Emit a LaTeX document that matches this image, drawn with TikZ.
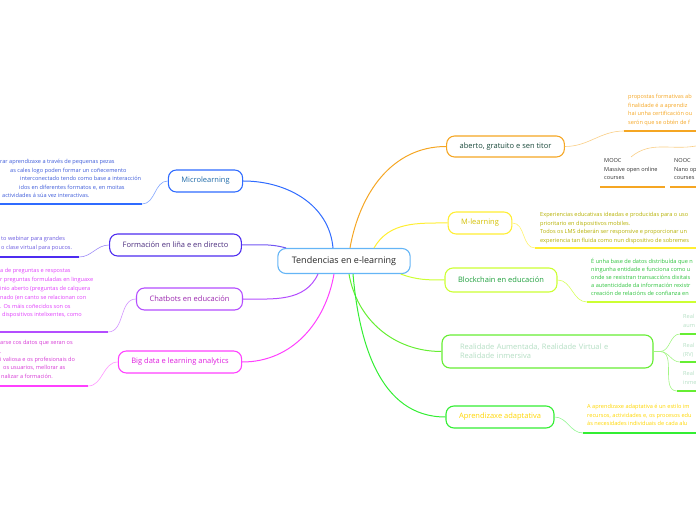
\documentclass[tikz,border=0pt]{standalone}
\usepackage{fontspec}
\setmainfont{Open Sans}
\usetikzlibrary{arrows.meta}

\definecolor{rootline}{HTML}{64B5F6}
\definecolor{mblue}{HTML}{2F6BFF}
\definecolor{mbluetext}{HTML}{1E6AA8}
\definecolor{mbluenote}{HTML}{3D5BD9}
\definecolor{findigo}{HTML}{4D2CF0}
\definecolor{findigotext}{HTML}{4B2D7F}
\definecolor{findigonote}{HTML}{6A5AE0}
\definecolor{cviolet}{HTML}{B44DFF}
\definecolor{cviolettext}{HTML}{9C27B0}
\definecolor{cvioletnote}{HTML}{E040FB}
\definecolor{bmagenta}{HTML}{FF40FF}
\definecolor{bmagentatext}{HTML}{E01EE0}
\definecolor{bmagentanote}{HTML}{D63AD6}
\definecolor{aorange}{HTML}{F5A623}
\definecolor{aorangetext}{HTML}{1B4A3C}
\definecolor{myellow}{HTML}{FFEE33}
\definecolor{myellowtext}{HTML}{D4C000}
\definecolor{myellownote}{HTML}{B5B000}
\definecolor{blime}{HTML}{CCFF33}
\definecolor{blimetext}{HTML}{1EA03C}
\definecolor{blimenote}{HTML}{2DC23D}
\definecolor{rgreen}{HTML}{66EE33}
\definecolor{rgreentext}{HTML}{B5DFC4}
\definecolor{agreen}{HTML}{33EE33}
\definecolor{ayellowtext}{HTML}{FFD600}

\begin{document}
\begin{tikzpicture}[
    x=1pt, y=1pt,
    topic/.style={draw, line width=1.1pt, rounded corners=8pt, fill=white,
        inner xsep=13pt, minimum height=22pt, font=\fontsize{7.5}{9}\selectfont},
    note/.style={anchor=north west, align=left, inner sep=0pt,
        font=\fontsize{5.6}{8.5}\selectfont},
    link/.style={line width=1pt},
    twig/.style={line width=0.6pt},
    rule/.style={line width=1.6pt}
]
\useasboundingbox (0,0) rectangle (696,520);

% --- Central topic ---
\node[topic, draw=rootline, text=black!85, minimum height=25pt, inner xsep=14pt,
    font=\fontsize{9}{11}\selectfont] (root) at (344,259) {Tendencias en e-learning};

% --- Left branches ---
\node[topic, draw=mblue, text=mbluetext] (micro) at (205.5,339) {Microlearning};
\node[topic, draw=findigo, text=findigotext] (form) at (175.5,275) {Formación en liña e en directo};
\node[topic, draw=cviolet, text=cviolettext] (chat) at (189.5,221) {Chatbots en educación};
\node[topic, draw=bmagenta, text=bmagentatext] (big) at (180,158) {Big data e learning analytics};

% --- Right branches ---
\node[topic, draw=aorange, text=aorangetext, minimum height=21pt] (aberto) at (505.5,373.5) {aberto, gratuito e sen titor};
\node[topic, draw=myellow, text=myellowtext] (mlearn) at (480,297) {M-learning};
\node[topic, draw=blime, text=blimetext, minimum height=24pt] (chain) at (501,240) {Blockchain en educación};
\node[topic, draw=rgreen, text=rgreentext, minimum height=33pt, text width=175pt,
    inner xsep=18pt, align=left] (real) at (547.5,168.5) {Realidade Aumentada, Realidade Virtual e\\Realidade inmersiva};
\node[topic, draw=agreen, text=ayellowtext] (adapt) at (500,103) {Aprendizaxe adaptativa};

% Main connectors from the central topic
\draw[link, mblue] ([xshift=-11pt]root.north) to[out=95, in=0] (micro.east);
\draw[link, findigo!80] ([xshift=-58pt]root.north) to[out=165, in=0] (form.east);
\draw[link, cviolet] ([xshift=-26pt]root.south) to[out=-115, in=0] (chat.east);
\draw[link, bmagenta] ([xshift=-10pt]root.south) to[out=-100, in=0] (big.east);
\draw[link, aorange] ([xshift=6pt]root.north) to[out=80, in=180] (aberto.west);
\draw[link, myellow] ([xshift=30pt]root.north) to[out=60, in=180] (mlearn.west);
\draw[link, blime] ([xshift=-10pt]root.south east) to[out=-20, in=180] (chain.west);
\draw[link, rgreen] ([xshift=5pt]root.south) to[out=-80, in=180] (real.west);
\draw[link, agreen] ([xshift=9pt]root.south) to[out=-85, in=180] (adapt.west);

% --- Microlearning notes ---
\coordinate (microA) at (142,316);
\coordinate (microB) at (0,316);
\draw[twig, mblue!60] (micro.west) to[out=180, in=0] (microA);
\draw[rule, mblue] (microA) -- (microB);
\node[note, text=mbluenote] (microN) at (0,360.5) {rar aprendizaxe a través de pequenas pezas\\
    \hspace*{10pt}as cales logo poden formar un coñecemento\\
    \hspace*{20pt}interconectado tendo como base a interacción\\
    \hspace*{19pt}idos en diferentes formatos e, en moitas\\
    \hspace*{2pt}actividades á súa vez interactivas.};

% --- Formacion notes ---
\coordinate (formA) at (79,263);
\coordinate (formB) at (0,263);
\draw[twig, findigo!55] (form.west) to[out=180, in=0] (formA);
\draw[rule, findigo] (formA) -- (formB);
\node[note, text=findigonote] (formN) at (1,283.5) {to webinar para grandes\\o clase virtual para poucos.};

% --- Chatbots notes ---
\coordinate (chatA) at (108,188);
\coordinate (chatB) at (0,188);
\draw[twig, cviolet!60] (chat.west) to[out=180, in=0] (chatA);
\draw[rule, cviolet] (chatA) -- (chatB);
\node[note, text=cvioletnote, font=\fontsize{5.6}{8.8}\selectfont] (chatN) at (0,251.5) {a de preguntas e respostas\\
    r preguntas formuladas en linguaxe\\
    inio aberto (preguntas de calquera\\
    nado (en canto se relacionan con\\
    . Os máis coñecidos son os\\
    \hspace*{2pt}dispositivos intelixentes, como};

% --- Big data notes ---
\coordinate (bigA) at (88,134);
\coordinate (bigB) at (0,134);
\draw[twig, bmagenta!55] (big.west) to[out=180, in=0] (bigA);
\draw[rule, bmagenta] (bigA) -- (bigB);
\node[note, text=bmagentanote, font=\fontsize{5.6}{8.3}\selectfont] (bigN) at (0,179.5) {arse cos datos que xeran os\\
    .\\
    i valiosa e os profesionais do\\
    \hspace*{3pt}os usuarios, mellorar as\\
    \hspace*{1pt}nalizar a formación.};

% --- Aberto notes and MOOC / NOOC ---
\coordinate (abertoA) at (624,389);
\coordinate (abertoB) at (696,389);
\draw[twig, aorange!55] (aberto.east) to[out=0, in=180] (abertoA);
\draw[rule, aorange] (abertoA) -- (abertoB);
\node[note, text=aorange] (abertoN) at (628,425.5) {propostas formativas ab\\
    finalidade é a aprendiz\\
    hai unha certificación ou\\
    serón que se obtén de f};
\coordinate (moocTop) at (631,363);
\coordinate (moocEdge) at (696,374);
\draw[twig, aorange!55] (moocTop) to[out=40, in=190] (moocEdge);
\coordinate (moocA) at (600,333);
\coordinate (moocB) at (665,333);
\coordinate (noocA) at (670,333);
\coordinate (noocB) at (696,333);
\draw[rule, aorange] (moocA) -- (moocB);
\draw[rule, aorange] (noocA) -- (noocB);
\node[note, text=black!80] (mooc) at (604,361.5) {MOOC\\Massive open online\\courses};
\node[note, text=black!80] (nooc) at (674,361.5) {NOOC\\Nano op\\courses};

% --- M-learning notes ---
\coordinate (mlearnA) at (535,272);
\coordinate (mlearnB) at (696,272);
\draw[twig, myellow!70] (mlearn.east) to[out=0, in=180] (mlearnA);
\draw[rule, myellow] (mlearnA) -- (mlearnB);
\node[note, text=myellownote] (mlearnN) at (540,307.5) {Experiencias educativas ideadas e producidas para o uso\\
    prioritario en dispositivos mobiles.\\
    Todos os LMS deberán ser responsive e proporcionar un\\
    experiencia tan fluida como nun dispositivo de sobremes};

% --- Blockchain notes ---
\coordinate (chainA) at (587,218);
\coordinate (chainB) at (696,218);
\draw[twig, blime!80] (chain.east) to[out=0, in=180] (chainA);
\draw[rule, blime] (chainA) -- (chainB);
\node[note, text=blimenote, font=\fontsize{5.6}{8}\selectfont] (chainN) at (591,261.5) {É unha base de datos distribuída que n\\
    ningunha entidade e funciona como u\\
    onde se rexistran transaccións dixitais\\
    a autenticidade da información rexistr\\
    creación de relacións de confianza en};

% --- Realidade subtopics ---
\coordinate (fork) at (660,168.5);
\coordinate (realA) at (680,186);
\coordinate (realB) at (680,158);
\coordinate (realC) at (677,129);
\draw[twig, rgreen!60] (real.east) -- (fork);
\foreach \tip in {realA, realB, realC}
    \draw[twig, rgreen!60] (fork) to[out=0, in=180] (\tip);
\draw[rule, rgreen] (realA) -- (696,186);
\draw[rule, rgreen] (realB) -- (696,158);
\draw[rule, rgreen] (realC) -- (696,129);
\node[note, text=rgreentext] (realN1) at (683,205.5) {Real\\aum};
\node[note, text=rgreentext] (realN2) at (683,176.5) {Real\\(RV)};
\node[note, text=rgreentext] (realN3) at (683,148.5) {Real\\inme};

% --- Aprendizaxe notes ---
\coordinate (adaptA) at (583,87);
\coordinate (adaptB) at (696,87);
\draw[twig, agreen!55] (adapt.east) to[out=0, in=180] (adaptA);
\draw[rule, agreen] (adaptA) -- (adaptB);
\node[note, text=ayellowtext] (adaptN) at (587,115.5) {A aprendizaxe adaptativa é un estilo im\\
    recursos, actividades e, os procesos edu\\
    ás necesidades individuais de cada alu};

\end{tikzpicture}
\end{document}
